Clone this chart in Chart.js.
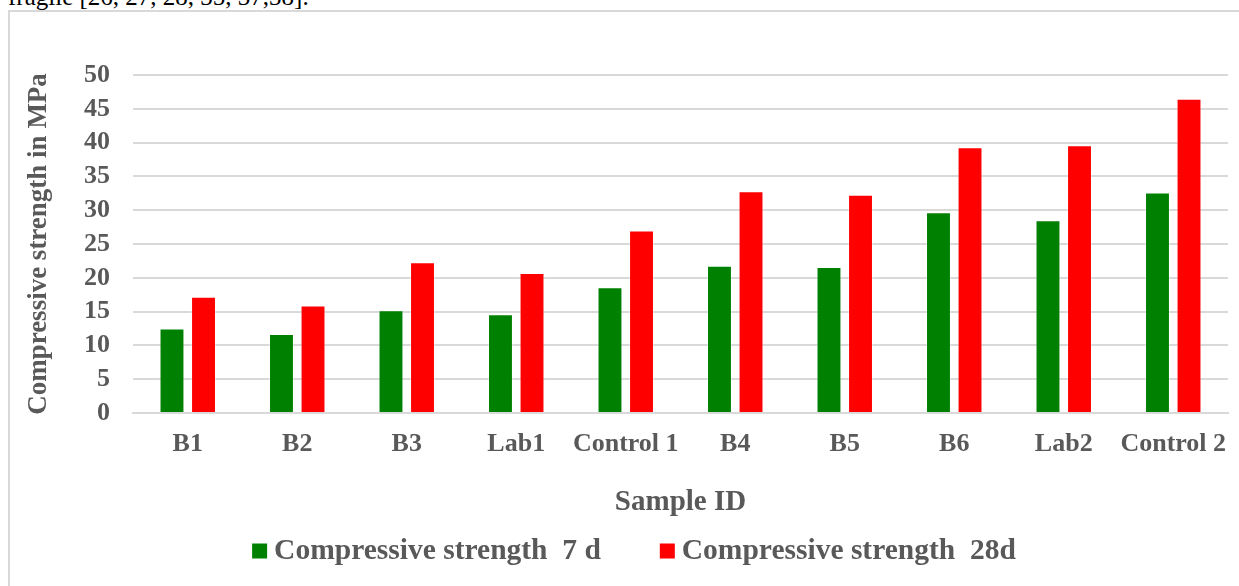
<!DOCTYPE html>
<html>
<head>
<meta charset="utf-8">
<script src="https://cdn.jsdelivr.net/npm/chart.js@4.4.1/dist/chart.umd.min.js"></script>
<style>
  body { margin: 0; background: #fff; overflow: hidden; }
  #note {
    position: absolute; left: 8px; top: -16px;
    font: 25px/25px "Liberation Serif", "Times New Roman", serif;
    color: #000; white-space: nowrap;
  }
  #frame {
    position: absolute; left: 8px; top: 10px; width: 1300px; height: 700px;
    border-left: 2px solid #d9d9d9; border-top: 2px solid #d9d9d9;
  }
  #wrap { position: absolute; left: 0; top: 0; width: 1239px; height: 586px; }
</style>
</head>
<body>
<div id="note">fragile [26, 27, 28, 35, 37,38].</div>
<div id="frame"></div>
<div id="wrap"><canvas id="chart"></canvas></div>
<script>
const categories = ["B1", "B2", "B3", "Lab1", "Control 1", "B4", "B5", "B6", "Lab2", "Control 2"];
const strength7d = [12.5, 11.7, 15.2, 14.6, 18.6, 21.8, 21.6, 29.7, 28.5, 32.6];
const strength28d = [17.2, 15.9, 22.3, 20.7, 27.0, 32.8, 32.3, 39.3, 39.6, 46.5];
const seriesNames = ["Compressive strength  7 d", "Compressive strength  28d"];

const textColor = "#595959";
const gridColor = "#d9d9d9";
const serif = "'Liberation Serif', 'Times New Roman', serif";

// legend drawn by hand: the built-in one puts too wide a gap between box and text
const bottomLegend = {
  id: "bottomLegend",
  afterDraw(chart) {
    const c = chart.ctx;
    const box = 15, gap = 7, spacing = 59, centerX = 634, y = 551;
    c.save();
    c.font = "bold 29.5px " + serif;
    c.textBaseline = "middle";
    const items = chart.data.datasets.map((ds) => ({
      text: ds.label,
      color: ds.backgroundColor,
      w: c.measureText(ds.label).width,
    }));
    const total = items.reduce((s, it) => s + box + gap + it.w, 0) + spacing * (items.length - 1);
    let x = centerX - total / 2;
    items.forEach((it) => {
      c.fillStyle = it.color;
      c.fillRect(x, y - box / 2, box, box);
      x += box + gap;
      c.fillStyle = textColor;
      c.fillText(it.text, x, y);
      x += it.w + spacing;
    });
    c.restore();
  },
};

const ctx = document.getElementById("chart").getContext("2d");
new Chart(ctx, {
  type: "bar",
  data: {
    labels: categories,
    datasets: [
      {
        label: seriesNames[0],
        data: strength7d,
        backgroundColor: "#008000",
        borderColor: "rgba(255,255,255,0.35)",
        borderWidth: 1,
      },
      {
        label: seriesNames[1],
        data: strength28d,
        backgroundColor: "#ff0000",
        borderColor: "rgba(255,255,255,0.35)",
        borderWidth: 1,
      },
    ],
  },
  plugins: [bottomLegend],
  options: {
    responsive: true,
    maintainAspectRatio: false,
    animation: false,
    layout: { padding: { left: 15, right: 11, top: 75, bottom: 61 } },
    datasets: {
      bar: { categoryPercentage: 0.576, barPercentage: 0.79 },
    },
    plugins: {
      legend: { display: false },
      tooltip: { enabled: false },
    },
    scales: {
      x: {
        grid: { display: false },
        border: { display: true, color: gridColor, width: 2 },
        ticks: {
          color: textColor,
          font: { family: serif, size: 26, weight: "bold" },
          padding: 8,
          maxRotation: 0,
          autoSkip: false,
        },
        title: {
          display: true,
          text: "Sample ID",
          color: textColor,
          font: { family: serif, size: 29, weight: "bold" },
          padding: { top: 20, bottom: 5 },
        },
        afterFit(scale) { scale.height = 112; },
      },
      y: {
        min: 0,
        max: 50,
        grid: { color: gridColor, lineWidth: 2, drawTicks: false },
        border: { display: false },
        ticks: {
          stepSize: 5,
          autoSkip: false,
          color: textColor,
          font: { family: serif, size: 26, weight: "bold" },
          padding: 23,
        },
        title: {
          display: true,
          text: "Compressive strength in MPa",
          color: textColor,
          font: { family: serif, size: 27, weight: "bold" },
          padding: { top: 8, bottom: 0 },
        },
        afterFit(scale) { scale.width = 118; },
      },
    },
  },
});
</script>
</body>
</html>
